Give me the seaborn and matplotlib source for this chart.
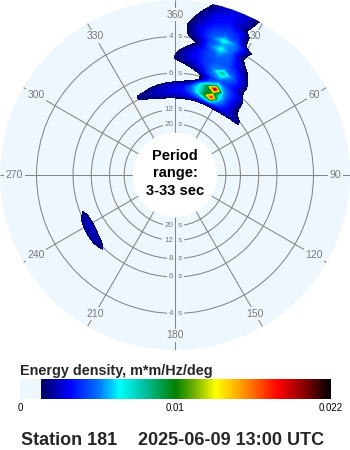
import numpy as np
import matplotlib
matplotlib.use("Agg")
import matplotlib.pyplot as plt
import matplotlib.colors as mcolors
import matplotlib.transforms as mtransforms
import seaborn as sns

# ---------------------------------------------------------------- data
# Directional wave spectrum, energy density in units of 1e-4 m*m/Hz/deg.
# Rows follow FREQ_HZ, columns follow DIR_DEG (direction waves come from,
# degrees clockwise from north).
DIR_DEG = [-30, -25, -20, -15, -10, -5, 0, 5, 10, 15, 20, 25, 30, 35, 40, 45, 50, 55]
FREQ_HZ = [0.09, 0.10, 0.11, 0.12, 0.13, 0.14, 0.15, 0.16, 0.17, 0.18, 0.19,
           0.20, 0.21, 0.22, 0.23, 0.24, 0.25, 0.26, 0.27, 0.28, 0.29, 0.30,
           0.31, 0.32, 0.3333]
ENERGY_E4 = [
    [0, 0, 0, 0, 0, 0, 0, 0, 0, 0, 0, 0, 0, 0, 0, 0, 0, 0],
    [0, 0, 0, 0, 0, 0, 0, 0, 0, 0, 0, 0, 0, 0, 0, 0, 0, 0],
    [0, 0, 0, 6, 11, 13, 14, 14, 15, 15, 16, 17, 18, 16, 13, 9, 4, 0],
    [0, 11, 16, 20, 23, 26, 28, 30, 34, 42, 52, 60, 45, 34, 28, 22, 20, 0],
    [0, 18, 20, 23, 26, 28, 30, 33, 45, 62, 95, 175, 58, 40, 27, 17, 8, 0],
    [0, 6, 10, 15, 20, 24, 26, 28, 45, 65, 88, 100, 62, 40, 25, 12, 0, 0],
    [0, 0, 0, 2, 3, 5, 8, 12, 18, 55, 92, 195, 58, 40, 28, 9, 0, 0],
    [0, 0, 0, 0, 0, 0, 0, 0, 0, 16, 45, 68, 50, 38, 28, 5, 0, 0],
    [0, 0, 0, 0, 0, 0, 0, 0, 0, 16, 35, 45, 40, 30, 16, 0, 0, 0],
    [0, 0, 0, 0, 0, 0, 0, 0, 15, 30, 48, 58, 45, 32, 12, 0, 0, 0],
    [0, 0, 0, 0, 0, 0, 0, 16, 24, 35, 52, 80, 50, 32, 12, 0, 0, 0],
    [0, 0, 0, 0, 0, 0, 15, 22, 30, 40, 48, 50, 42, 30, 8, 0, 0, 0],
    [0, 0, 0, 0, 0, 0, 13, 24, 32, 40, 45, 45, 35, 20, 0, 0, 0, 0],
    [0, 0, 0, 0, 0, 0, 8, 22, 32, 42, 48, 45, 30, 14, 0, 0, 0, 0],
    [0, 0, 0, 0, 0, 0, 0, 12, 25, 40, 55, 45, 27, 0, 0, 0, 0, 0],
    [0, 0, 0, 0, 0, 0, 0, 0, 17, 45, 65, 45, 16, 0, 0, 0, 0, 0],
    [0, 0, 0, 0, 0, 0, 0, 10, 22, 42, 55, 50, 18, 0, 0, 0, 0, 0],
    [0, 0, 0, 0, 0, 0, 0, 14, 28, 45, 65, 50, 25, 0, 0, 0, 0, 0],
    [0, 0, 0, 0, 0, 0, 0, 14, 30, 42, 48, 40, 5, 0, 0, 0, 0, 0],
    [0, 0, 0, 0, 0, 0, 0, 14, 28, 38, 42, 36, 5, 0, 0, 0, 0, 0],
    [0, 0, 0, 0, 0, 0, 0, 11, 24, 34, 38, 32, 5, 0, 0, 0, 0, 0],
    [0, 0, 0, 0, 0, 0, 0, 6, 22, 32, 34, 20, 0, 0, 0, 0, 0, 0],
    [0, 0, 0, 0, 0, 0, 0, 0, 18, 30, 32, 24, 2, 0, 0, 0, 0, 0],
    [0, 0, 0, 0, 0, 0, 0, 0, 12, 26, 30, 26, 6, 0, 0, 0, 0, 0],
    [0, 0, 0, 0, 0, 0, 0, 0, 6, 20, 28, 26, 10, 0, 0, 0, 0, 0],
]

# Small south-west swell patch
SW_DIR_DEG = [220, 225, 230, 235, 240, 245, 250, 255]
SW_FREQ_HZ = [0.14, 0.15, 0.16, 0.17, 0.18, 0.19]
SW_ENERGY_E4 = [
    [0, 0, 0, 0, 0, 0, 0, 0],
    [0, 0, 0, 8, 12, 10, 0, 0],
    [0, 8, 18, 24, 25, 22, 10, 0],
    [0, 16, 22, 24, 22, 14, 0, 0],
    [0, 6, 8, 6, 0, 0, 0, 0],
    [0, 0, 0, 0, 0, 0, 0, 0],
]

RING_PERIODS_S = [4, 6, 8, 12, 20]
SPOKE_DEG = [0, 30, 60, 90, 120, 150, 180, 210, 240, 270, 300, 330]
SPOKE_LABELS = ["360", "30", "60", "90", "120", "150", "180", "210", "240", "270", "300", "330"]
PERIOD_MIN_S, PERIOD_MAX_S = 3, 33

E_MIN, E_MID, E_MAX = 0.0, 0.01, 0.022
E_SHOW = 0.00136          # lowest level that gets coloured
CBAR_TICKS = [0.0, 0.01, 0.022]
CBAR_TICKLABELS = ["0", "0.01", "0.022"]

STATION = "Station 181"
TIMESTAMP = "2025-06-09 13:00 UTC"

# ---------------------------------------------------------------- style
sns.set_theme(style="white")
plt.rcParams["font.family"] = ["Liberation Sans", "DejaVu Sans"]

BG = "#eef6fe"
GRID = "#858585"
LABEL = "#7a7a7a"

cmap = mcolors.LinearSegmentedColormap.from_list(
    "wave_energy",
    [(0.000, BG), (0.067, BG), (0.068, "#000060"), (0.16, "#0000ff"),
     (0.25, "#0070ff"), (0.32, "#00ffff"), (0.40, "#00c0a0"),
     (0.50, "#008000"), (0.56, "#70b000"), (0.63, "#ffff00"),
     (0.71, "#ffa000"), (0.83, "#ff0000"), (0.91, "#900000"),
     (1.00, "#000000")], N=512)
norm = mcolors.TwoSlopeNorm(vmin=E_MIN, vcenter=E_MID, vmax=E_MAX)

fig = plt.figure(figsize=(3.5, 4.5), dpi=100)
fig.patch.set_facecolor("white")

ax = fig.add_axes([0, 100 / 450, 1, 350 / 450], projection="polar")
ax.set_facecolor(BG)
ax.set_theta_zero_location("N")
ax.set_theta_direction(-1)
f_lo, f_hi = 1 / PERIOD_MAX_S, 1 / PERIOD_MIN_S
ax.set_ylim(f_lo, f_hi)
ax.set_rorigin(-0.066)
for sp in ax.spines.values():
    sp.set_edgecolor("none")
    sp.set_linewidth(0)
ax.set_xticks([])
ax.set_yticks([1 / p for p in RING_PERIODS_S])
ax.set_yticklabels([])
ax.set_axisbelow(True)
ax.yaxis.grid(True, color=GRID, lw=0.75)
ax.xaxis.grid(False)
ax.tick_params(length=0)

# ring labels (period), above and below the centre
def offset(dx_px):
    return mtransforms.offset_copy(ax.transData, fig=fig, x=dx_px * 0.72, y=0, units="points")

for p in RING_PERIODS_S:
    for th in (0.0, np.pi):
        ax.text(th, 1 / p, str(p), transform=offset(-2.0), ha="right", va="center",
                fontsize=5.8, color=LABEL, zorder=2,
                bbox=dict(boxstyle="square,pad=0.2", fc=BG, ec="none"))
        ax.text(th, 1 / p, " s", transform=offset(1.0), ha="left", va="center",
                fontsize=5.8, color=LABEL, zorder=2,
                bbox=dict(boxstyle="square,pad=0.2", fc=BG, ec="none"))

# direction spokes and their labels
ax.vlines(np.radians(SPOKE_DEG), f_lo, f_hi, colors=GRID, lw=0.75, zorder=2.5)
for d, lab in zip(SPOKE_DEG, SPOKE_LABELS):
    ax.text(np.radians(d), 0.30, lab, ha="center", va="center", fontsize=7.5,
            color=LABEL, zorder=3,
            bbox=dict(boxstyle="square,pad=0.15", fc=BG, ec="none"))

# spectrum
levels = np.linspace(E_SHOW, E_MAX, 80)
th, fr = np.meshgrid(np.radians(DIR_DEG), FREQ_HZ)
ax.contourf(th, fr, np.array(ENERGY_E4) * 1e-4, levels=levels, cmap=cmap,
            norm=norm, zorder=4, antialiased=False)
th2, fr2 = np.meshgrid(np.radians(SW_DIR_DEG), SW_FREQ_HZ)
ax.contourf(th2, fr2, np.array(SW_ENERGY_E4) * 1e-4, levels=levels, cmap=cmap,
            norm=norm, zorder=4, antialiased=False)
ax.set_ylim(f_lo, f_hi)

# centre caption
for txt, ypx in (("Period", 160), ("range:", 177), ("3-33 sec", 195)):
    fig.text(0.5, 1 - ypx / 450, txt, ha="center", va="baseline",
             fontsize=10.5, fontweight="bold", color="black")

# colour bar
cax = fig.add_axes([20 / 350, 51 / 450, 311 / 350, 20 / 450])
sm = plt.cm.ScalarMappable(norm=norm, cmap=cmap)
cb = fig.colorbar(sm, cax=cax, orientation="horizontal")
cb.outline.set_visible(False)
cb.set_ticks(CBAR_TICKS)
cb.set_ticklabels(CBAR_TICKLABELS)
cax.tick_params(length=0, labelsize=7, pad=3, colors="black")

fig.text(20 / 350, 1 - 375 / 450, "Energy density, m*m/Hz/deg", ha="left",
         va="baseline", fontsize=10.4, fontweight="bold")
fig.text(21 / 350, 1 - 445 / 450, STATION, ha="left", va="baseline",
         fontsize=13, fontweight="bold")
fig.text(138 / 350, 1 - 445 / 450, TIMESTAMP, ha="left", va="baseline",
         fontsize=13, fontweight="bold")

fig.savefig("out.png", dpi=100)
